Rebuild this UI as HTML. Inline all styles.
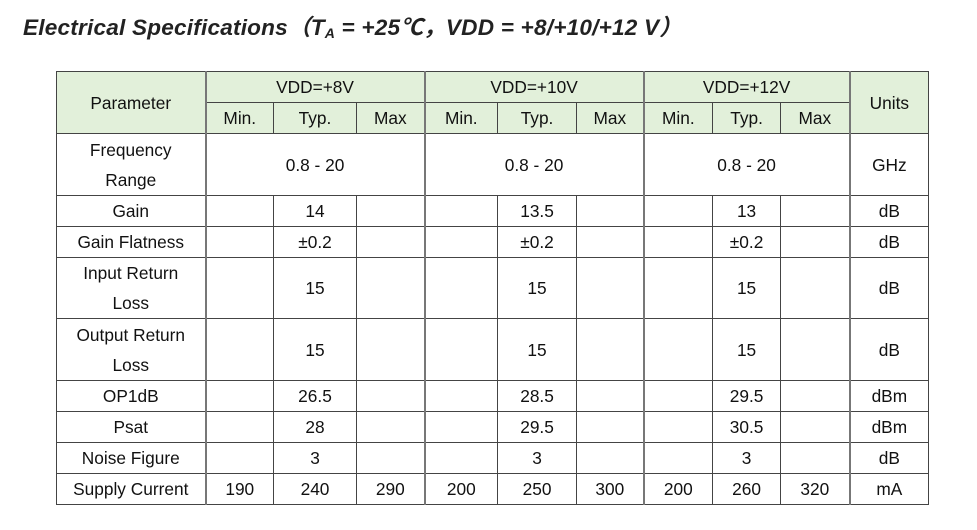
<!DOCTYPE html>
<html><head><meta charset="utf-8"><style>
body{margin:0;width:977px;height:530px;background:#fff;position:relative;font-family:"Liberation Sans","Noto Sans CJK SC",sans-serif;color:#111;overflow:hidden}
h1{position:absolute;left:23px;top:9px;margin:0;font-size:22.6px;font-style:italic;font-weight:bold;color:#222;white-space:nowrap;letter-spacing:0.2px}
h1 sub{font-size:14px;vertical-align:-3px}
table{position:absolute;left:56px;top:71px;border-collapse:collapse;table-layout:fixed;width:872px}
td{border:1px solid #444;text-align:center;font-size:17.3px;padding:0;line-height:30px}
td.g{border-left:2px solid #777;}
thead td{background:#e2f0da}
</style></head><body>
<h1>Electrical Specifications（T<sub>A</sub> = +25℃，VDD = +8/+10/+12 V）</h1>
<table>
<colgroup><col style="width:149px"><col style="width:68px"><col style="width:83px"><col style="width:68px"><col style="width:73px"><col style="width:79px"><col style="width:67px"><col style="width:69px"><col style="width:68px"><col style="width:69px"><col style="width:79px"></colgroup>
<thead>
<tr style="height:30px"><td rowspan="2">Parameter</td><td colspan="3" class="g">VDD=+8V</td><td colspan="3" class="g">VDD=+10V</td><td colspan="3" class="g">VDD=+12V</td><td rowspan="2" class="g">Units</td></tr>
<tr style="height:31px"><td class="g">Min.</td><td>Typ.</td><td>Max</td><td class="g">Min.</td><td>Typ.</td><td>Max</td><td class="g">Min.</td><td>Typ.</td><td>Max</td></tr>
</thead>
<tbody>
<tr style="height:62px"><td>Frequency<br>Range</td><td colspan="3" class="g">0.8 - 20</td><td colspan="3" class="g">0.8 - 20</td><td colspan="3" class="g">0.8 - 20</td><td class="g">GHz</td></tr>
<tr style="height:31px"><td>Gain</td><td class="g"></td><td>14</td><td></td><td class="g"></td><td>13.5</td><td></td><td class="g"></td><td>13</td><td></td><td class="g">dB</td></tr>
<tr style="height:31px"><td>Gain Flatness</td><td class="g"></td><td>±0.2</td><td></td><td class="g"></td><td>±0.2</td><td></td><td class="g"></td><td>±0.2</td><td></td><td class="g">dB</td></tr>
<tr style="height:61px"><td>Input Return<br>Loss</td><td class="g"></td><td>15</td><td></td><td class="g"></td><td>15</td><td></td><td class="g"></td><td>15</td><td></td><td class="g">dB</td></tr>
<tr style="height:62px"><td>Output Return<br>Loss</td><td class="g"></td><td>15</td><td></td><td class="g"></td><td>15</td><td></td><td class="g"></td><td>15</td><td></td><td class="g">dB</td></tr>
<tr style="height:31px"><td>OP1dB</td><td class="g"></td><td>26.5</td><td></td><td class="g"></td><td>28.5</td><td></td><td class="g"></td><td>29.5</td><td></td><td class="g">dBm</td></tr>
<tr style="height:31px"><td>Psat</td><td class="g"></td><td>28</td><td></td><td class="g"></td><td>29.5</td><td></td><td class="g"></td><td>30.5</td><td></td><td class="g">dBm</td></tr>
<tr style="height:31px"><td>Noise Figure</td><td class="g"></td><td>3</td><td></td><td class="g"></td><td>3</td><td></td><td class="g"></td><td>3</td><td></td><td class="g">dB</td></tr>
<tr style="height:30px"><td>Supply Current</td><td class="g">190</td><td>240</td><td>290</td><td class="g">200</td><td>250</td><td>300</td><td class="g">200</td><td>260</td><td>320</td><td class="g">mA</td></tr>
</tbody></table>
</body></html>
